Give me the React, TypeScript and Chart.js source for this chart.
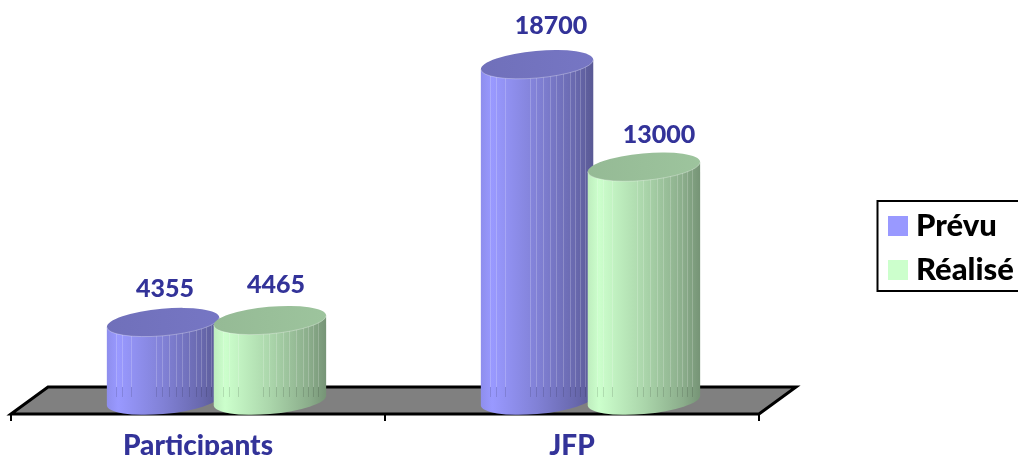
import React, { useEffect, useRef } from "react";
import { Chart, registerables } from "chart.js";

Chart.register(...registerables);

const categories = ["Participants", "JFP"];
const seriesNames = ["Prévu", "Réalisé"];
const prevu = [4355, 18700];
const realise = [4465, 13000];
const seriesColors = ["#9999FF", "#CCFFCC"];

const TEXT_BLUE = "#333399";
const FONT = "Lato";
const DEPTH_X = 37;
const DEPTH_Y = 27;
const TILT = -0.09;
const MINOR = 13.5;
const STRIPE_OFFSETS = [9, 15, 24, 49, 55, 62, 69, 75, 82, 89, 94, 99, 104];
// label nudges [dataset][category] -> [dx, dy] from the cylinder's top centre
const LABEL_NUDGE = [
  [[2, -33], [14, -39]],
  [[6, -35], [15, -32]],
];

function shade(hex: string, f: number) {
  const n = parseInt(hex.slice(1), 16);
  const r = Math.round(((n >> 16) & 255) * f);
  const g = Math.round(((n >> 8) & 255) * f);
  const b = Math.round((n & 255) * f);
  return `rgb(${r},${g},${b})`;
}

function drawCylinder(ctx: CanvasRenderingContext2D, el: any, color: string, floorBackY: number) {
  const major = el.width / 2;
  const cx = el.x + DEPTH_X / 2;
  const topY = el.y;
  const baseY = el.base;
  const t0 = Math.atan((MINOR / major) * Math.tan(-TILT));
  const ex = major * Math.cos(t0) * Math.cos(TILT) - MINOR * Math.sin(t0) * Math.sin(TILT);
  const ey = major * Math.cos(t0) * Math.sin(TILT) + MINOR * Math.sin(t0) * Math.cos(TILT);
  const left = cx - ex;
  const right = cx + ex;

  ctx.save();
  ctx.beginPath();
  ctx.moveTo(left, topY - ey);
  ctx.lineTo(left, baseY - ey);
  ctx.ellipse(cx, baseY, major, MINOR, TILT, t0 + Math.PI, t0, true);
  ctx.lineTo(right, topY + ey);
  ctx.closePath();
  const g = ctx.createLinearGradient(left, 0, right, 0);
  g.addColorStop(0, shade(color, 0.93));
  g.addColorStop(0.1, shade(color, 1));
  g.addColorStop(0.5, shade(color, 0.84));
  g.addColorStop(0.85, shade(color, 0.68));
  g.addColorStop(1, shade(color, 0.58));
  ctx.fillStyle = g;
  ctx.fill();
  ctx.clip();
  ctx.lineWidth = 1;
  for (const off of STRIPE_OFFSETS) {
    const x = Math.round(left + off) + 0.5;
    ctx.strokeStyle = "rgba(255,255,255,0.2)";
    ctx.beginPath();
    ctx.moveTo(x, topY);
    ctx.lineTo(x, floorBackY);
    ctx.stroke();
    ctx.strokeStyle = "rgba(0,0,0,0.12)";
    ctx.beginPath();
    ctx.moveTo(x, floorBackY);
    ctx.lineTo(x, floorBackY + 10);
    ctx.stroke();
  }
  ctx.restore();

  // top cap
  ctx.save();
  ctx.beginPath();
  ctx.ellipse(cx, topY, major, MINOR, TILT, 0, Math.PI * 2);
  const cap = ctx.createLinearGradient(left, 0, right, 0);
  cap.addColorStop(0, shade(color, 0.73));
  cap.addColorStop(1, shade(color, 0.77));
  ctx.fillStyle = cap;
  ctx.fill();
  ctx.beginPath();
  ctx.ellipse(cx, topY, major, MINOR, TILT, t0 + Math.PI, t0, true);
  ctx.strokeStyle = "rgba(255,255,255,0.3)";
  ctx.lineWidth = 1;
  ctx.stroke();
  ctx.restore();
}

const cylinderPlugin = {
  id: "cylinders",
  beforeDatasetDraw() {
    return false;
  },
  afterDatasetsDraw(chart: any) {
    const ctx: CanvasRenderingContext2D = chart.ctx;
    const { left, right, bottom } = chart.chartArea;
    const backY = bottom - DEPTH_Y;

    // floor
    ctx.save();
    ctx.beginPath();
    ctx.moveTo(left, bottom);
    ctx.lineTo(left + DEPTH_X, backY);
    ctx.lineTo(right + DEPTH_X, backY);
    ctx.lineTo(right, bottom);
    ctx.closePath();
    ctx.fillStyle = "#808080";
    ctx.fill();
    ctx.strokeStyle = "#000";
    ctx.lineWidth = 3;
    ctx.lineJoin = "miter";
    ctx.stroke();
    ctx.restore();

    // cylinders, category by category
    categories.forEach((_, i) => {
      chart.data.datasets.forEach((ds: any, d: number) => {
        const el = chart.getDatasetMeta(d).data[i];
        drawCylinder(ctx, el, ds.backgroundColor, backY);
      });
    });

    // value labels
    ctx.save();
    ctx.font = `900 25px ${FONT}`;
    ctx.fillStyle = TEXT_BLUE;
    ctx.textAlign = "center";
    ctx.textBaseline = "middle";
    chart.data.datasets.forEach((ds: any, d: number) => {
      chart.getDatasetMeta(d).data.forEach((el: any, i: number) => {
        const [dx, dy] = LABEL_NUDGE[d][i];
        ctx.fillText(String(ds.data[i]), el.x + DEPTH_X / 2 + dx, el.y + dy);
      });
    });
    ctx.restore();

    // legend, clipped by the right edge of the picture
    ctx.save();
    ctx.strokeStyle = "#000";
    ctx.lineWidth = 2;
    ctx.strokeRect(877.5, 201, 160, 90);
    ctx.font = `900 31px ${FONT}`;
    ctx.textBaseline = "middle";
    chart.data.datasets.forEach((ds: any, d: number) => {
      const y = 216 + d * 44;
      ctx.fillStyle = ds.backgroundColor;
      ctx.fillRect(888, y, 20, 20);
      ctx.fillStyle = "#000";
      ctx.fillText(ds.label, 916, y + 10);
    });
    ctx.restore();
  },
};

export default function App() {
  const ref = useRef<HTMLCanvasElement>(null);
  useEffect(() => {
    document.body.style.margin = "0";
    const chart = new Chart(ref.current!, {
      type: "bar",
      data: {
        labels: categories,
        datasets: [
          { label: seriesNames[0], data: prevu, backgroundColor: seriesColors[0] },
          { label: seriesNames[1], data: realise, backgroundColor: seriesColors[1] },
        ],
      },
      options: {
        responsive: false,
        animation: false,
        layout: { padding: { left: 11, right: 259, top: 0, bottom: 0 } },
        datasets: { bar: { categoryPercentage: 0.5715, barPercentage: 1.056 } },
        plugins: { legend: { display: false }, tooltip: { enabled: false } },
        scales: {
          x: {
            afterFit: (s: any) => {
              s.height = 41;
            },
            grid: { drawOnChartArea: false, color: "#000", lineWidth: 2, tickLength: 7 },
            border: { display: true, color: "#000", width: 2 },
            ticks: {
              color: TEXT_BLUE,
              padding: 8,
              maxRotation: 0,
              font: { family: FONT, size: 28, weight: "900" },
            },
          },
          y: { display: false, min: -751, max: 22287 },
        },
      },
      plugins: [cylinderPlugin],
    } as any);
    return () => chart.destroy();
  }, []);
  return <canvas ref={ref} width={1018} height={455} style={{ display: "block" }} />;
}
